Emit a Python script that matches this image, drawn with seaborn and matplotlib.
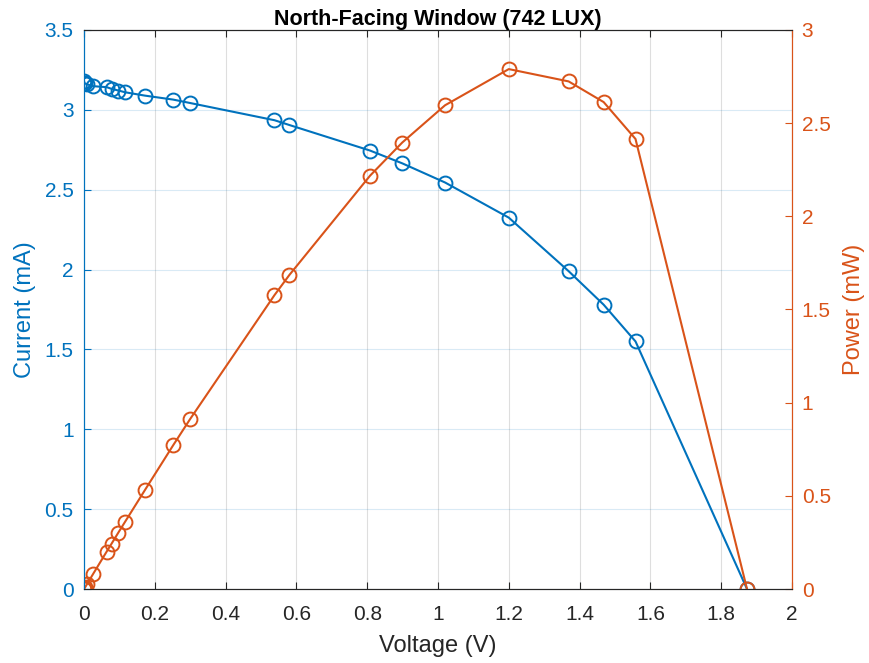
import matplotlib
matplotlib.use("Agg")
import matplotlib.pyplot as plt
import seaborn as sns
import pandas as pd

# Data
voltage = [0, 0.001, 0.003, 0.008, 0.026, 0.064, 0.078, 0.097, 0.116, 0.172, 0.252, 0.299,
           0.538, 0.580, 0.808, 0.899, 1.020, 1.200, 1.369, 1.468, 1.558, 1.873]
current = [3.18, 3.17, 3.165, 3.16, 3.148, 3.142, 3.131, 3.121, 3.110, 3.089, 3.064, 3.043,
           2.935, 2.905, 2.745, 2.665, 2.545, 2.325, 1.99, 1.78, 1.55, 0]
power = [0, 0.003, 0.009, 0.025, 0.082, 0.201, 0.244, 0.303, 0.361, 0.531, 0.772, 0.910,
         1.577, 1.685, 2.218, 2.396, 2.596, 2.790, 2.724, 2.613, 2.415, 0]

x_ticks = [0, 0.2, 0.4, 0.6, 0.8, 1, 1.2, 1.4, 1.6, 1.8, 2]
x_labels = ["0", "0.2", "0.4", "0.6", "0.8", "1", "1.2", "1.4", "1.6", "1.8", "2"]
left_ticks = [0, 0.5, 1, 1.5, 2, 2.5, 3, 3.5]
left_labels = ["0", "0.5", "1", "1.5", "2", "2.5", "3", "3.5"]
right_ticks = [0, 0.5, 1, 1.5, 2, 2.5, 3]
right_labels = ["0", "0.5", "1", "1.5", "2", "2.5", "3"]

title = "North-Facing Window (742 LUX)"
xlabel = "Voltage (V)"
ylabel_left = "Current (mA)"
ylabel_right = "Power (mW)"

BLUE = "#0072BD"
ORANGE = "#D95319"
DARK = "#262626"

sns.set_style("white")
plt.rcParams["font.family"] = ["Liberation Sans", "DejaVu Sans"]

df = pd.DataFrame({"V": voltage, "I": current, "P": power})

fig = plt.figure(figsize=(8.7, 6.63), dpi=100)
ax = fig.add_axes([0.0966, 0.1116, 0.8137, 0.8432])
ax2 = ax.twinx()

sns.lineplot(data=df, x="V", y="I", ax=ax, color=BLUE, estimator=None, sort=False,
             marker="o", markersize=10, markerfacecolor="none", markeredgecolor=BLUE,
             markeredgewidth=1.4, linewidth=1.5)
sns.lineplot(data=df, x="V", y="P", ax=ax2, color=ORANGE, estimator=None, sort=False,
             marker="o", markersize=10, markerfacecolor="none", markeredgecolor=ORANGE,
             markeredgewidth=1.4, linewidth=1.5)

ax.set_xlim(0, 2)
ax.set_ylim(0, 3.5)
ax2.set_ylim(0, 3)

ax.set_xticks(x_ticks)
ax.set_xticklabels(x_labels)
ax.set_yticks(left_ticks)
ax.set_yticklabels(left_labels)
ax2.set_yticks(right_ticks)
ax2.set_yticklabels(right_labels)

ax.grid(True, axis="x", color=DARK, alpha=0.15, linewidth=0.8)
ax.grid(True, axis="y", color=BLUE, alpha=0.15, linewidth=0.8)
ax2.grid(False)
ax.set_axisbelow(True)

ax.tick_params(axis="x", direction="in", length=5, width=0.8, colors=DARK,
               labelsize=15, pad=11.5, top=True, bottom=True)
ax.tick_params(axis="y", direction="in", length=5, width=0.8, colors=BLUE,
               labelsize=15, pad=7.5, left=True, right=False)
ax2.tick_params(axis="y", direction="in", length=5, width=0.8, colors=ORANGE,
                labelsize=15, pad=7, right=True, left=False)

for a in (ax, ax2):
    a.spines["top"].set_color(DARK)
    a.spines["bottom"].set_color(DARK)
    a.spines["left"].set_color(BLUE)
    a.spines["right"].set_color(ORANGE)
    for s in a.spines.values():
        s.set_linewidth(0.8)
        s.set_visible(True)

ax.set_xlabel(xlabel, fontsize=17, color=DARK, labelpad=8)
ax.set_ylabel(ylabel_left, fontsize=17, color=BLUE, labelpad=6)
ax2.set_ylabel(ylabel_right, fontsize=17, color=ORANGE, labelpad=9)
ax.set_title(title, fontsize=15.5, fontweight="bold", color="black", pad=1)

fig.savefig("out.png", dpi=100)
